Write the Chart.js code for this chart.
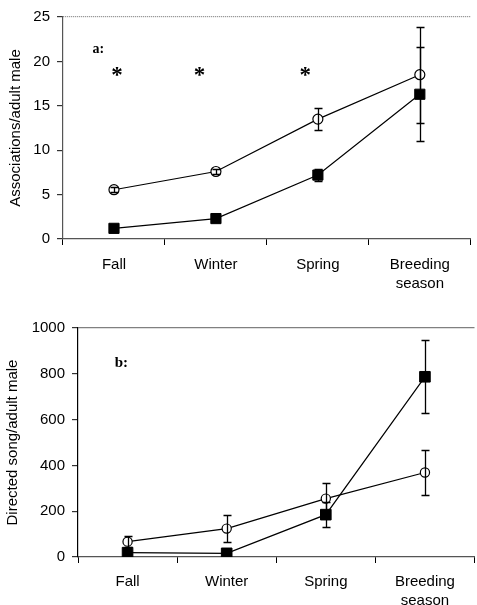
<!DOCTYPE html>
<html>
<head>
<meta charset="utf-8">
<script src="https://cdn.jsdelivr.net/npm/chart.js@4.4.1/dist/chart.umd.min.js"></script>
<style>
html,body{margin:0;padding:0;background:#fff;overflow:hidden;width:477px;height:605px;}
#pa{position:absolute;left:0;top:0;}
#pb{position:absolute;left:0;top:300px;}
</style>
</head>
<body>
<canvas id="pa" width="479" height="300"></canvas>
<canvas id="pb" width="483" height="305"></canvas>
<script>
// ---- data ----
const categories = [['Fall'], ['Winter'], ['Spring'], ['Breeding', 'season']];

const assocCircle = [5.55, 7.6, 13.5, 18.5];
const assocCircleErr = [0.3, 0.25, 1.25, 5.4];
const assocSquare = [1.2, 2.3, 7.2, 16.3];
const assocSquareErr = [0.15, 0.15, 0.7, 5.3];

const songCircle = [67, 124, 255, 369];
const songCircleErr = [25, 58, 67, 97];
const songSquare = [19, 16, 185, 787];
const songSquareErr = [4, 4, 55, 160];

const assocTicks = [0, 5, 10, 15, 20, 25];
const songTicks = [0, 200, 400, 600, 800, 1000];

const significance = ['*', '*', '*'];   // seasons marked with asterisk in panel a

Chart.defaults.font.family = "'Liberation Sans', Arial, sans-serif";
Chart.defaults.color = '#000';

const errorBars = {
  id: 'errorBars',
  afterDatasetsDraw(chart) {
    const ctx = chart.ctx, ys = chart.scales.y;
    chart.data.datasets.forEach((ds, di) => {
      if (!ds.errors) return;
      const meta = chart.getDatasetMeta(di);
      ctx.save();
      ctx.strokeStyle = '#000';
      ctx.lineWidth = 1.3;
      meta.data.forEach((pt, i) => {
        const e = ds.errors[i];
        if (!e) return;
        const v = ds.data[i];
        const t = Math.round(ys.getPixelForValue(v + e)) + 0.5;
        const b = Math.round(ys.getPixelForValue(v - e)) + 0.5;
        const x = Math.round(pt.x) + 0.5;
        ctx.beginPath();
        ctx.moveTo(x, t); ctx.lineTo(x, b);
        ctx.moveTo(x - 4, t); ctx.lineTo(x + 4, t);
        ctx.moveTo(x - 4, b); ctx.lineTo(x + 4, b);
        ctx.stroke();
      });
      ctx.restore();
    });
  }
};

const decor = {
  id: 'decor',
  afterDraw(chart) {
    const ctx = chart.ctx;
    const xs = chart.scales.x, ys = chart.scales.y;
    ctx.save();
    const notes = chart.options.plugins.decor.notes || [];
    notes.forEach(n => {
      ctx.font = n.font;
      ctx.fillStyle = '#000';
      ctx.textAlign = n.align || 'left';
      ctx.textBaseline = n.baseline || 'middle';
      ctx.fillText(n.text, xs.getPixelForValue(n.x), ys.getPixelForValue(n.y) + (n.dy || 0));
    });
    ctx.restore();
  }
};

function makeChart(id, cfg) {
  return new Chart(document.getElementById(id), {
    type: 'line',
    data: {
      labels: categories,
      datasets: [
        {
          data: cfg.circle, errors: cfg.circleErr,
          borderColor: '#000', borderWidth: 1.2, tension: 0,
          pointStyle: 'circle', pointRadius: cfg.cr, pointBackgroundColor: '#fff',
          pointBorderColor: '#000', pointBorderWidth: 1.2
        },
        {
          data: cfg.square, errors: cfg.squareErr,
          borderColor: '#000', borderWidth: 1.2, tension: 0,
          pointStyle: 'rect', pointRadius: cfg.sr, pointBackgroundColor: '#000',
          pointBorderColor: '#000', pointBorderWidth: 1
        }
      ]
    },
    options: {
      responsive: false,
      animation: false,
      devicePixelRatio: 1,
      layout: { padding: { top: cfg.top, left: 0, right: 0, bottom: 0 } },
      plugins: {
        legend: { display: false },
        tooltip: { enabled: false },
        decor: { notes: cfg.notes }
      },
      scales: {
        x: {
          offset: true,
          grid: { offset: true, drawOnChartArea: false, drawTicks: true, tickLength: 6, color: '#000' },
          border: { display: true, color: '#555', width: 1.2 },
          ticks: { font: { size: 15, lineHeight: 1.3 }, padding: cfg.xpad, color: '#000', maxRotation: 0, autoSkip: false },
          afterFit(s) { s.height = cfg.xh; }
        },
        y: {
          min: 0, max: cfg.max,
          afterBuildTicks(s) { s.ticks = cfg.ticks.map(v => ({ value: v })); },
          grid: {
            drawOnChartArea: true, drawTicks: true, tickLength: 6,
            color: c => (c.tick && c.tick.value === cfg.max) ? '#808080' : 'rgba(0,0,0,0)',
            tickColor: '#333', lineWidth: 1.2
          },
          border: { display: true, color: cfg.ycolor, width: 1.2, dash: cfg.ydash },
          ticks: { font: { size: 15 }, padding: 7, color: '#000', callback: v => String(v) },
          title: { display: true, text: cfg.title, font: { size: 15 }, color: '#000', padding: { top: cfg.tpad, bottom: 0 } },
          afterFit(s) { s.width = cfg.yw; }
        }
      }
    },
    plugins: [errorBars, decor]
  });
}

const starFont = "bold 23px 'Liberation Serif', serif";

makeChart('pa', {
  circle: assocCircle, circleErr: assocCircleErr,
  square: assocSquare, squareErr: assocSquareErr,
  cr: 5, sr: 7.2, max: 25, ticks: assocTicks,
  top: 17, xh: 61, yw: 63, xpad: 10, tpad: 7,
  ycolor: '#555', ydash: [1, 1],
  title: 'Associations/adult male',
  notes: [
    { text: 'a:', x: -0.21, y: 21.3, font: "bold 14px 'Liberation Serif', serif" },
    { text: significance[0], x: 0.03, y: 19.0, dy: 12, baseline: 'alphabetic', align: 'center', font: starFont },
    { text: significance[1], x: 0.84, y: 19.0, dy: 12, baseline: 'alphabetic', align: 'center', font: starFont },
    { text: significance[2], x: 1.875, y: 19.0, dy: 12, baseline: 'alphabetic', align: 'center', font: starFont }
  ]
});

makeChart('pb', {
  circle: songCircle, circleErr: songCircleErr,
  square: songSquare, squareErr: songSquareErr,
  cr: 4.6, sr: 7.5, max: 1000, ticks: songTicks,
  top: 28, xh: 48, yw: 78, xpad: 9, tpad: 4,
  ycolor: '#000', ydash: [],
  title: 'Directed song/adult male',
  notes: [
    { text: 'b:', x: -0.13, y: 847, font: "bold 15px 'Liberation Serif', serif" }
  ]
});
</script>
</body>
</html>
